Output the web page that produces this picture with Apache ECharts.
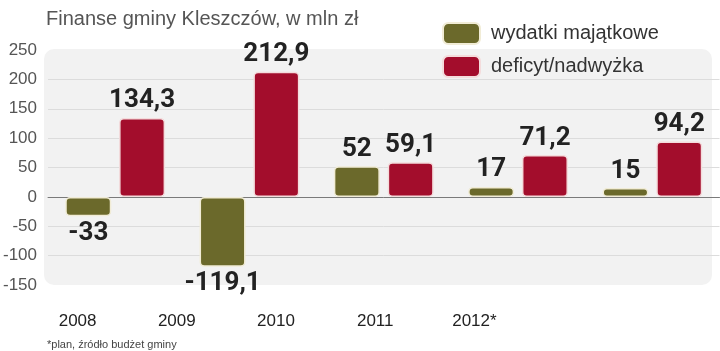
<!DOCTYPE html>
<html>
<head>
<meta charset="utf-8">
<script src="https://cdn.jsdelivr.net/npm/echarts@6/dist/echarts.min.js"></script>
<style>
  html, body { margin: 0; padding: 0; background: #fff; }
  #chart { width: 720px; height: 351px; }
</style>
</head>
<body>
<div id="chart"></div>
<script>
// data
var years = ["2008", "2009", "2010", "2011", "2012*"];
var wydatki = [-33, -119.1, 52, 17, 15];
var deficyt = [134.3, 212.9, 59.1, 71.2, 94.2];
var yTicks = { min: -150, max: 250, step: 50 };

var OLIVE = "#6b692b";
var RED = "#a30d2c";

function fmt(v) {
  return String(v).replace(".", ",");
}

// negative bars carry their label underneath
function withLabels(arr) {
  return arr.map(function (v) {
    return { value: v, label: { position: v < 0 ? "bottom" : "top" } };
  });
}

var valueLabel = {
  show: true,
  distance: 4,
  formatter: function (p) { return fmt(p.value); },
  fontFamily: "Roboto",
  fontWeight: "bold",
  fontSize: 26,
  color: "#222"
};

var chart = echarts.init(document.getElementById("chart"));
chart.setOption({
  animation: false,
  backgroundColor: "#fff",
  title: [
    {
      text: "Finanse gminy Kleszczów, w mln zł",
      left: 41, top: 4,
      textStyle: { fontFamily: "Liberation Sans", fontWeight: "normal", fontSize: 20, color: "#555" }
    },
    {
      text: "*plan, źródło budżet gminy",
      left: 42, top: 334,
      textStyle: { fontFamily: "Liberation Sans", fontWeight: "normal", fontSize: 11, color: "#444" }
    }
  ],
  graphic: [
    {
      type: "rect", z: -10, silent: true,
      shape: { x: 44, y: 49, width: 668, height: 236, r: 10 },
      style: { fill: "#f2f2f2" }
    }
  ],
  legend: {
    orient: "vertical",
    left: 437, top: 17,
    itemWidth: 37, itemHeight: 21, itemGap: 10,
    icon: "roundRect",
    textStyle: { fontFamily: "Liberation Sans", fontSize: 20, color: "#333", padding: [0, 0, 0, 6] },
    data: ["wydatki majątkowe", "deficyt/nadwyżka"]
  },
  grid: [
    { left: 44.5, right: 0.5, top: 50, bottom: 66 },
    { left: 28, width: 496, top: 50, bottom: 66 }
  ],
  xAxis: [
    {
      type: "category", gridIndex: 0, data: years,
      axisLine: { onZero: true, lineStyle: { color: "#7a7a7a", width: 1 } },
      axisTick: { show: false },
      axisLabel: { show: false }
    },
    {
      type: "category", gridIndex: 1, data: years,
      axisLine: { show: false },
      axisTick: { show: false },
      axisLabel: { margin: 28, fontFamily: "Liberation Sans", fontSize: 17, color: "#222" }
    }
  ],
  yAxis: [
    {
      type: "value", gridIndex: 0,
      min: yTicks.min, max: yTicks.max, interval: yTicks.step,
      axisLine: { show: false },
      axisTick: { show: false },
      axisLabel: { margin: 11, fontFamily: "Liberation Sans", fontSize: 17, color: "#555" },
      splitLine: {
        lineStyle: {
          color: ["transparent", "#dcdcdc", "#dcdcdc", "transparent", "#dcdcdc", "#dcdcdc", "#dcdcdc", "#dcdcdc", "transparent"]
        }
      }
    },
    {
      type: "value", gridIndex: 1, show: false, min: yTicks.min, max: yTicks.max
    }
  ],
  series: [
    {
      name: "wydatki majątkowe",
      type: "bar",
      xAxisIndex: 0, yAxisIndex: 0,
      barWidth: 46,
      barGap: "17%",
      itemStyle: { color: OLIVE, borderColor: "#f1ecd6", borderWidth: 1.5, borderRadius: 4 },
      label: valueLabel,
      data: withLabels(wydatki)
    },
    {
      name: "deficyt/nadwyżka",
      type: "bar",
      xAxisIndex: 0, yAxisIndex: 0,
      barWidth: 46,
      barGap: "17%",
      itemStyle: { color: RED, borderColor: "#f4dcdc", borderWidth: 1.5, borderRadius: 4 },
      label: valueLabel,
      data: withLabels(deficyt)
    }
  ]
});
</script>
</body>
</html>
